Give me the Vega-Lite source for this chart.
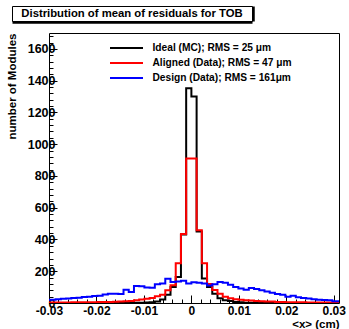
{
  "$schema": "https://vega.github.io/schema/vega-lite/v6.json",
  "padding": {"left": 5, "top": 5, "right": 0, "bottom": 0},
  "spacing": 6,
  "resolve": {"legend": {"color": "independent"}},
  "config": {"font": "Liberation Sans", "view": {"stroke": "black", "strokeWidth": 1}},
  "datasets": {
    "h": [
      {"s":"Ideal","x":-0.0308,"n":0},{"s":"Ideal","x":-0.0297,"n":0},{"s":"Ideal","x":-0.0286,"n":0},{"s":"Ideal","x":-0.0275,"n":0},{"s":"Ideal","x":-0.0264,"n":0},{"s":"Ideal","x":-0.0253,"n":0},{"s":"Ideal","x":-0.0242,"n":0},{"s":"Ideal","x":-0.0231,"n":0},{"s":"Ideal","x":-0.022,"n":0},{"s":"Ideal","x":-0.0209,"n":0},{"s":"Ideal","x":-0.0198,"n":0},{"s":"Ideal","x":-0.0187,"n":0},{"s":"Ideal","x":-0.0176,"n":0},{"s":"Ideal","x":-0.0165,"n":0},{"s":"Ideal","x":-0.0154,"n":0},{"s":"Ideal","x":-0.0143,"n":1},{"s":"Ideal","x":-0.0132,"n":1},{"s":"Ideal","x":-0.0121,"n":1},{"s":"Ideal","x":-0.011,"n":2},{"s":"Ideal","x":-0.0099,"n":3},{"s":"Ideal","x":-0.0088,"n":5},{"s":"Ideal","x":-0.0077,"n":9},{"s":"Ideal","x":-0.0066,"n":22},{"s":"Ideal","x":-0.0055,"n":52},{"s":"Ideal","x":-0.0044,"n":101},{"s":"Ideal","x":-0.0033,"n":164},{"s":"Ideal","x":-0.0022,"n":432},{"s":"Ideal","x":-0.0011,"n":1352},{"s":"Ideal","x":0,"n":1300},{"s":"Ideal","x":0.0011,"n":450},{"s":"Ideal","x":0.0022,"n":155},{"s":"Ideal","x":0.0033,"n":101},{"s":"Ideal","x":0.0044,"n":59},{"s":"Ideal","x":0.0055,"n":30},{"s":"Ideal","x":0.0066,"n":18},{"s":"Ideal","x":0.0077,"n":12},{"s":"Ideal","x":0.0088,"n":7},{"s":"Ideal","x":0.0099,"n":4},{"s":"Ideal","x":0.011,"n":2},{"s":"Ideal","x":0.0121,"n":1},{"s":"Ideal","x":0.0132,"n":1},{"s":"Ideal","x":0.0143,"n":0},{"s":"Ideal","x":0.0154,"n":0},{"s":"Ideal","x":0.0165,"n":0},{"s":"Ideal","x":0.0176,"n":0},{"s":"Ideal","x":0.0187,"n":0},{"s":"Ideal","x":0.0198,"n":0},{"s":"Ideal","x":0.0209,"n":0},{"s":"Ideal","x":0.022,"n":0},{"s":"Ideal","x":0.0231,"n":0},{"s":"Ideal","x":0.0242,"n":0},{"s":"Ideal","x":0.0253,"n":0},{"s":"Ideal","x":0.0264,"n":0},{"s":"Ideal","x":0.0275,"n":0},{"s":"Ideal","x":0.0286,"n":0},{"s":"Ideal","x":0.0297,"n":0},{"s":"Ideal","x":0.0308,"n":0},{"s":"Ideal","x":0.0319,"n":0},
      {"s":"Aligned","x":-0.0308,"n":3},{"s":"Aligned","x":-0.0297,"n":3},{"s":"Aligned","x":-0.0286,"n":3},{"s":"Aligned","x":-0.0275,"n":3},{"s":"Aligned","x":-0.0264,"n":3},{"s":"Aligned","x":-0.0253,"n":4},{"s":"Aligned","x":-0.0242,"n":4},{"s":"Aligned","x":-0.0231,"n":4},{"s":"Aligned","x":-0.022,"n":5},{"s":"Aligned","x":-0.0209,"n":5},{"s":"Aligned","x":-0.0198,"n":6},{"s":"Aligned","x":-0.0187,"n":6},{"s":"Aligned","x":-0.0176,"n":7},{"s":"Aligned","x":-0.0165,"n":8},{"s":"Aligned","x":-0.0154,"n":9},{"s":"Aligned","x":-0.0143,"n":11},{"s":"Aligned","x":-0.0132,"n":13},{"s":"Aligned","x":-0.0121,"n":18},{"s":"Aligned","x":-0.011,"n":22},{"s":"Aligned","x":-0.0099,"n":27},{"s":"Aligned","x":-0.0088,"n":32},{"s":"Aligned","x":-0.0077,"n":42},{"s":"Aligned","x":-0.0066,"n":52},{"s":"Aligned","x":-0.0055,"n":80},{"s":"Aligned","x":-0.0044,"n":112},{"s":"Aligned","x":-0.0033,"n":250},{"s":"Aligned","x":-0.0022,"n":435},{"s":"Aligned","x":-0.0011,"n":910},{"s":"Aligned","x":0,"n":910},{"s":"Aligned","x":0.0011,"n":458},{"s":"Aligned","x":0.0022,"n":250},{"s":"Aligned","x":0.0033,"n":120},{"s":"Aligned","x":0.0044,"n":82},{"s":"Aligned","x":0.0055,"n":58},{"s":"Aligned","x":0.0066,"n":40},{"s":"Aligned","x":0.0077,"n":30},{"s":"Aligned","x":0.0088,"n":24},{"s":"Aligned","x":0.0099,"n":20},{"s":"Aligned","x":0.011,"n":17},{"s":"Aligned","x":0.0121,"n":15},{"s":"Aligned","x":0.0132,"n":12},{"s":"Aligned","x":0.0143,"n":11},{"s":"Aligned","x":0.0154,"n":10},{"s":"Aligned","x":0.0165,"n":9},{"s":"Aligned","x":0.0176,"n":7},{"s":"Aligned","x":0.0187,"n":6},{"s":"Aligned","x":0.0198,"n":5},{"s":"Aligned","x":0.0209,"n":5},{"s":"Aligned","x":0.022,"n":4},{"s":"Aligned","x":0.0231,"n":4},{"s":"Aligned","x":0.0242,"n":3},{"s":"Aligned","x":0.0253,"n":3},{"s":"Aligned","x":0.0264,"n":3},{"s":"Aligned","x":0.0275,"n":3},{"s":"Aligned","x":0.0286,"n":3},{"s":"Aligned","x":0.0297,"n":3},{"s":"Aligned","x":0.0308,"n":3},{"s":"Aligned","x":0.0319,"n":3},
      {"s":"Design","x":-0.0308,"n":20},{"s":"Design","x":-0.0297,"n":21},{"s":"Design","x":-0.0286,"n":24},{"s":"Design","x":-0.0275,"n":27},{"s":"Design","x":-0.0264,"n":28},{"s":"Design","x":-0.0253,"n":32},{"s":"Design","x":-0.0242,"n":33},{"s":"Design","x":-0.0231,"n":38},{"s":"Design","x":-0.022,"n":40},{"s":"Design","x":-0.0209,"n":44},{"s":"Design","x":-0.0198,"n":46},{"s":"Design","x":-0.0187,"n":53},{"s":"Design","x":-0.0176,"n":59},{"s":"Design","x":-0.0165,"n":59},{"s":"Design","x":-0.0154,"n":57},{"s":"Design","x":-0.0143,"n":84},{"s":"Design","x":-0.0132,"n":69},{"s":"Design","x":-0.0121,"n":107},{"s":"Design","x":-0.011,"n":105},{"s":"Design","x":-0.0099,"n":97},{"s":"Design","x":-0.0088,"n":96},{"s":"Design","x":-0.0077,"n":118},{"s":"Design","x":-0.0066,"n":122},{"s":"Design","x":-0.0055,"n":152},{"s":"Design","x":-0.0044,"n":132},{"s":"Design","x":-0.0033,"n":135},{"s":"Design","x":-0.0022,"n":140},{"s":"Design","x":-0.0011,"n":122},{"s":"Design","x":0,"n":130},{"s":"Design","x":0.0011,"n":128},{"s":"Design","x":0.0022,"n":122},{"s":"Design","x":0.0033,"n":110},{"s":"Design","x":0.0044,"n":118},{"s":"Design","x":0.0055,"n":132},{"s":"Design","x":0.0066,"n":128},{"s":"Design","x":0.0077,"n":115},{"s":"Design","x":0.0088,"n":100},{"s":"Design","x":0.0099,"n":92},{"s":"Design","x":0.011,"n":84},{"s":"Design","x":0.0121,"n":95},{"s":"Design","x":0.0132,"n":88},{"s":"Design","x":0.0143,"n":80},{"s":"Design","x":0.0154,"n":72},{"s":"Design","x":0.0165,"n":64},{"s":"Design","x":0.0176,"n":57},{"s":"Design","x":0.0187,"n":52},{"s":"Design","x":0.0198,"n":40},{"s":"Design","x":0.0209,"n":46},{"s":"Design","x":0.022,"n":36},{"s":"Design","x":0.0231,"n":32},{"s":"Design","x":0.0242,"n":28},{"s":"Design","x":0.0253,"n":23},{"s":"Design","x":0.0264,"n":21},{"s":"Design","x":0.0275,"n":19},{"s":"Design","x":0.0286,"n":17},{"s":"Design","x":0.0297,"n":11},{"s":"Design","x":0.0308,"n":11},{"s":"Design","x":0.0319,"n":11}
    ]
  },
  "vconcat": [
    {
      "width": 240,
      "height": 15,
      "view": {"stroke": "black", "strokeWidth": 1},
      "data": {"values": [{"t": "Distribution of mean of residuals for TOB"}]},
      "mark": {"type": "text", "font": "Liberation Sans", "fontWeight": "bold", "fontSize": 11.3, "align": "center", "baseline": "middle", "color": "black"},
      "encoding": {
        "text": {"field": "t", "type": "nominal"},
        "x": {"datum": 0.5, "type": "quantitative", "scale": {"domain": [0, 1]},
              "axis": {"orient": "bottom", "labels": false, "ticks": false, "grid": false, "title": null, "domain": true, "domainColor": "black", "domainWidth": 2.5, "offset": 1}},
        "y": {"datum": 0.5, "type": "quantitative", "scale": {"domain": [0, 1]},
              "axis": {"orient": "right", "labels": false, "ticks": false, "grid": false, "title": null, "domain": true, "domainColor": "black", "domainWidth": 2.5, "offset": 1}}
      }
    },
    {
      "spacing": -8,
      "resolve": {"legend": {"color": "independent"}},
      "hconcat": [
        {
          "width": 1,
          "height": 1,
          "view": {"stroke": null, "fill": "white"},
          "data": {"values": []},
          "mark": "point"
        },
        {
          "width": 290,
          "height": 270,
          "data": {"name": "h"},
          "encoding": {
            "x": {"field": "x", "type": "quantitative",
                  "scale": {"domain": [-0.03, 0.0311], "nice": false, "zero": false},
                  "axis": {
                    "values": [-0.03,-0.028,-0.026,-0.024,-0.022,-0.02,-0.018,-0.016,-0.014,-0.012,-0.01,-0.008,-0.006,-0.004,-0.002,0,0.002,0.004,0.006,0.008,0.01,0.012,0.014,0.016,0.018,0.02,0.022,0.024,0.026,0.028,0.03],
                    "labelExpr": "abs(datum.value*100 - round(datum.value*100)) < 1e-6 ? (datum.value == 0 ? '0' : (datum.value < 0 ? '-' : '') + format(abs(datum.value), '.2f')) : ''",
                    "tickSize": {"condition": {"test": "abs(datum.value*100 - round(datum.value*100)) < 1e-6", "value": -8}, "value": -4},
                    "tickColor": "black", "tickWidth": 1,
                    "domain": false, "grid": false,
                    "labelFont": "Liberation Sans", "labelFontWeight": "bold", "labelFontSize": 12, "labelColor": "black",
                    "labelPadding": 10, "labelOverlap": false, "labelFlush": false, "labelBound": false,
                    "title": "<x> (cm)", "titleAnchor": "end", "titleFont": "Liberation Sans", "titleFontWeight": "bold", "titleFontSize": 11.5, "titleColor": "black", "titlePadding": -2
                  }},
            "y": {"field": "n", "type": "quantitative",
                  "scale": {"domain": [0, 1700], "nice": false},
                  "axis": {
                    "values": [0,40,80,120,160,200,240,280,320,360,400,440,480,520,560,600,640,680,720,760,800,840,880,920,960,1000,1040,1080,1120,1160,1200,1240,1280,1320,1360,1400,1440,1480,1520,1560,1600,1640,1680],
                    "labelExpr": "datum.value % 200 == 0 ? format(datum.value, 'd') : ''",
                    "tickSize": {"condition": {"test": "datum.value % 200 == 0", "value": -8}, "value": -4},
                    "tickColor": "black", "tickWidth": 1,
                    "domain": false, "grid": false,
                    "labelFont": "Liberation Sans", "labelFontWeight": "bold", "labelFontSize": 12.5, "labelColor": "black",
                    "labelPadding": 2, "labelOverlap": false, "labelBound": false,
                    "title": "number of Modules", "titleAnchor": "end", "titleFont": "Liberation Sans", "titleFontWeight": "bold", "titleFontSize": 11.5, "titleColor": "black", "titlePadding": 10
                  }},
            "color": {"field": "s", "type": "nominal",
                      "scale": {"domain": ["Ideal", "Aligned", "Design"], "range": ["#000000", "#ff0000", "#0000ff"]},
                      "legend": {
                        "orient": "none", "legendX": 71, "legendY": 8.5, "title": null, "padding": 0,
                        "symbolType": "M-3,0H3", "symbolSize": 121, "symbolStrokeWidth": 2,
                        "labelFont": "Liberation Sans", "labelFontWeight": "bold", "labelFontSize": 10.2, "labelColor": "black",
                        "labelOffset": 19.5, "rowPadding": 3,
                        "labelExpr": "datum.label == 'Ideal' ? 'Ideal (MC); RMS = 25 μm' : (datum.label == 'Aligned' ? 'Aligned (Data); RMS = 47 μm' : 'Design (Data); RMS = 161μm')"
                      }}
          },
          "layer": [
            {"transform": [{"filter": {"field": "s", "equal": "Ideal"}}], "mark": {"type": "line", "interpolate": "step-after", "strokeWidth": 2, "clip": true}},
            {"transform": [{"filter": {"field": "s", "equal": "Aligned"}}], "mark": {"type": "line", "interpolate": "step-after", "strokeWidth": 2, "clip": true}},
            {"transform": [{"filter": {"field": "s", "equal": "Design"}}], "mark": {"type": "line", "interpolate": "step-after", "strokeWidth": 2, "clip": true}}
          ]
        }
      ]
    }
  ]
}
